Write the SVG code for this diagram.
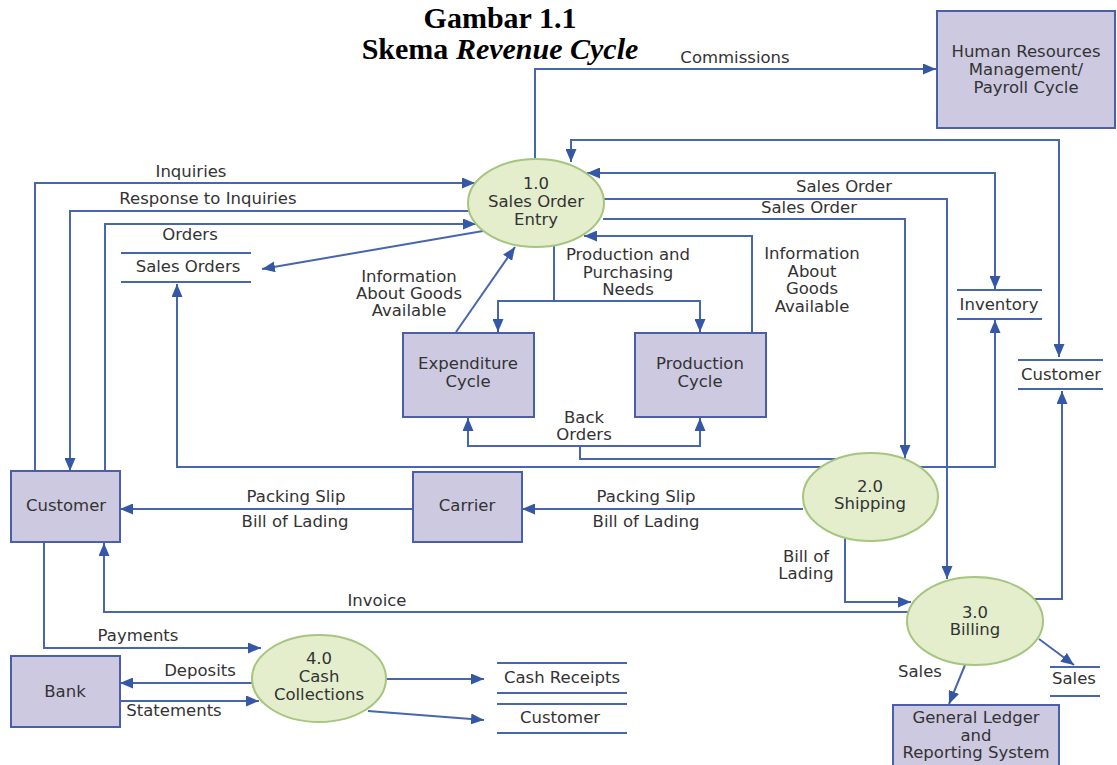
<svg xmlns="http://www.w3.org/2000/svg" width="1117" height="765" viewBox="0 0 1117 765">
<style>
.t{font-family:"DejaVu Sans","Liberation Sans",sans-serif;font-size:16.5px;fill:#333;text-anchor:middle}
.title{font-family:"Liberation Serif","Times New Roman",serif;font-size:30px;font-weight:bold;fill:#000;text-anchor:middle}
.box{fill:#cdc9e1;stroke:#4a5fa8;stroke-width:2}
.proc{fill:#e4eecd;stroke:#a6c57e;stroke-width:2}
.ln{fill:none;stroke:#4766ad;stroke-width:2}
.ar{fill:none;stroke:#4766ad;stroke-width:2;marker-end:url(#ah)}
.ar2{fill:none;stroke:#4766ad;stroke-width:2;marker-start:url(#ah);marker-end:url(#ah)}
.ds{fill:none;stroke:#4766ad;stroke-width:2}
</style>
<defs>
<marker id="ah" markerUnits="userSpaceOnUse" markerWidth="13" markerHeight="11" refX="13" refY="5.5" orient="auto-start-reverse">
<path d="M0,0 L13,5.5 L0,11 z" fill="#3458a6"/>
</marker>
</defs>
<rect width="1117" height="765" fill="#fff"/>
<g id="title">
<text class="title" x="500" y="28">Gambar 1.1</text>
<text class="title" x="500" y="59">Skema <tspan font-style="italic">Revenue Cycle</tspan></text>
</g>
<g id="connectors">
<path class="ar" d="M535,159 V69 H936"/>
<path class="ar2" d="M571,162 V140 H1059 V357"/>
<path class="ar2" d="M587,173 H995 V289"/>
<path class="ar" d="M604,199 H947 V579"/>
<path class="ar" d="M603,219 H905 V458"/>
<path class="ar" d="M752,333 V236 H584"/>
<path class="ar" d="M554,246 V301 H498 V332"/>
<path class="ar" d="M554,301 H700 V332"/>
<path class="ar" d="M456,332 L515,247"/>
<path class="ar" d="M483,231 L262,269"/>
<path class="ar" d="M35,471 V183 H475"/>
<path class="ar" d="M470,211 H70 V471"/>
<path class="ar" d="M105,471 V224 H476"/>
<path class="ar2" d="M177,284 V467 H995 V320"/>
<path class="ln" d="M836,459 H580 V446"/>
<path class="ar2" d="M468,418 V446 H700 V418"/>
<path class="ar" d="M803,509 H522"/>
<path class="ar" d="M413,509 H120"/>
<path class="ar" d="M845,538 V602 H911"/>
<path class="ar" d="M908,612 H104 V543"/>
<path class="ar" d="M1034,599 H1062 V391"/>
<path class="ar" d="M965,665 L949,704"/>
<path class="ar" d="M1039,639 L1074,665"/>
<path class="ar" d="M44,542 V648 H261"/>
<path class="ar" d="M252,683 H120"/>
<path class="ar" d="M120,701 H259"/>
<path class="ar" d="M386,679 H484"/>
<path class="ar" d="M368,711 L484,720"/>
</g>
<g id="labels">
<text class="t" x="735" y="63">Commissions</text>
<text class="t" x="191" y="177">Inquiries</text>
<text class="t" x="208" y="204">Response to Inquiries</text>
<text class="t" x="190" y="240">Orders</text>
<text class="t" x="844" y="192">Sales Order</text>
<text class="t" x="809" y="213">Sales Order</text>
<text class="t" x="409" y="282">Information</text>
<text class="t" x="409" y="299">About Goods</text>
<text class="t" x="409" y="316">Available</text>
<text class="t" x="628" y="260">Production and</text>
<text class="t" x="628" y="278">Purchasing</text>
<text class="t" x="628" y="295">Needs</text>
<text class="t" x="812" y="259">Information</text>
<text class="t" x="812" y="277">About</text>
<text class="t" x="812" y="294">Goods</text>
<text class="t" x="812" y="312">Available</text>
<text class="t" x="584" y="423">Back</text>
<text class="t" x="584" y="440">Orders</text>
<text class="t" x="296" y="502">Packing Slip</text>
<text class="t" x="295" y="527">Bill of Lading</text>
<text class="t" x="646" y="502">Packing Slip</text>
<text class="t" x="646" y="527">Bill of Lading</text>
<text class="t" x="806" y="562">Bill of</text>
<text class="t" x="806" y="579">Lading</text>
<text class="t" x="377" y="606">Invoice</text>
<text class="t" x="138" y="641">Payments</text>
<text class="t" x="200" y="676">Deposits</text>
<text class="t" x="174" y="716">Statements</text>
<text class="t" x="920" y="677">Sales</text>
</g>
<g id="hr"><rect class="box" x="937" y="11" width="178" height="117"/>
<text class="t" x="1026" y="57">Human Resources</text><text class="t" x="1026" y="75">Management/</text><text class="t" x="1026" y="93">Payroll Cycle</text></g>
<g id="p1"><ellipse class="proc" cx="536" cy="203" rx="68" ry="44"/>
<text class="t" x="536" y="189">1.0</text><text class="t" x="536" y="207">Sales Order</text><text class="t" x="536" y="225">Entry</text></g>
<g id="ds-salesorders"><line class="ds" x1="121" y1="253" x2="251" y2="253"/><line class="ds" x1="121" y1="282" x2="251" y2="282"/>
<text class="t" x="188" y="272">Sales Orders</text></g>
<g id="ds-inventory"><line class="ds" x1="957" y1="290" x2="1042" y2="290"/><line class="ds" x1="957" y1="319" x2="1042" y2="319"/>
<text class="t" x="999" y="310">Inventory</text></g>
<g id="ds-customer1"><line class="ds" x1="1018" y1="360" x2="1103" y2="360"/><line class="ds" x1="1018" y1="389" x2="1103" y2="389"/>
<text class="t" x="1061" y="380">Customer</text></g>
<g id="expenditure"><rect class="box" x="403" y="333" width="131" height="84"/>
<text class="t" x="468" y="369">Expenditure</text><text class="t" x="468" y="387">Cycle</text></g>
<g id="production"><rect class="box" x="635" y="333" width="131" height="84"/>
<text class="t" x="700" y="369">Production</text><text class="t" x="700" y="387">Cycle</text></g>
<g id="customer"><rect class="box" x="11" y="471" width="109" height="71"/>
<text class="t" x="66" y="511">Customer</text></g>
<g id="carrier"><rect class="box" x="413" y="472" width="109" height="70"/>
<text class="t" x="467" y="511">Carrier</text></g>
<g id="p2"><ellipse class="proc" cx="870.5" cy="497" rx="67.5" ry="44"/>
<text class="t" x="870" y="492">2.0</text><text class="t" x="870" y="509">Shipping</text></g>
<g id="p3"><ellipse class="proc" cx="975" cy="621" rx="68" ry="44"/>
<text class="t" x="975" y="618">3.0</text><text class="t" x="975" y="635">Billing</text></g>
<g id="bank"><rect class="box" x="11" y="656" width="109" height="71"/>
<text class="t" x="65" y="697">Bank</text></g>
<g id="p4"><ellipse class="proc" cx="319" cy="678.5" rx="67" ry="43.5"/>
<text class="t" x="319" y="664">4.0</text><text class="t" x="319" y="682">Cash</text><text class="t" x="319" y="700">Collections</text></g>
<g id="ds-cashreceipts"><line class="ds" x1="497" y1="663" x2="627" y2="663"/><line class="ds" x1="497" y1="693" x2="627" y2="693"/>
<text class="t" x="562" y="683">Cash Receipts</text></g>
<g id="ds-customer2"><line class="ds" x1="497" y1="704" x2="627" y2="704"/><line class="ds" x1="497" y1="733" x2="627" y2="733"/>
<text class="t" x="560" y="723">Customer</text></g>
<g id="ds-sales"><line class="ds" x1="1050" y1="667" x2="1100" y2="667"/><line class="ds" x1="1050" y1="696" x2="1100" y2="696"/>
<text class="t" x="1074" y="684">Sales</text></g>
<g id="gl"><rect class="box" x="893" y="705" width="166" height="70"/>
<text class="t" x="976" y="723">General Ledger</text><text class="t" x="976" y="741">and</text><text class="t" x="976" y="758">Reporting System</text></g>
</svg>
